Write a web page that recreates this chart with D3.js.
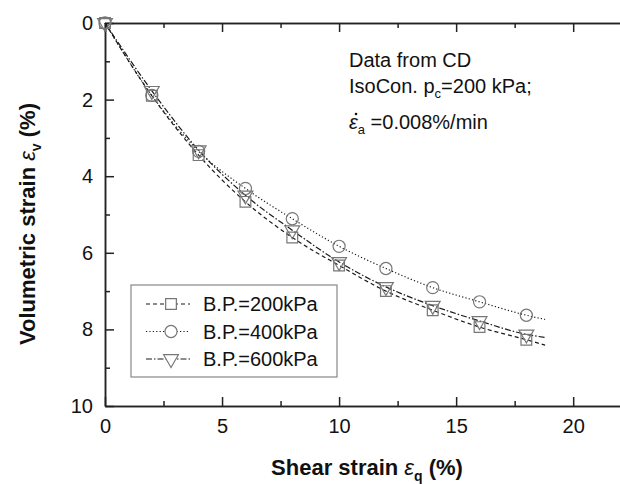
<!DOCTYPE html>
<html>
<head>
<meta charset="utf-8">
<script src="https://cdn.jsdelivr.net/npm/d3@7"></script>
<style>
  body { margin: 0; background: #fff; }
  svg { display: block; font-family: 'Liberation Sans', Arial, sans-serif; }
  .axis path, .axis line { stroke: #222; stroke-width: 1.5; }
  .axis text { font-size: 20px; fill: #111; font-family: 'Liberation Sans', Arial, sans-serif; }
</style>
</head>
<body>
<svg width="620" height="484"></svg>
<script>
const svg = d3.select('svg');

// data
const shearStrain = [0, 2, 4, 6, 8, 10, 12, 14, 16, 18];
const volBP200 = [0, 1.90, 3.45, 4.67, 5.60, 6.33, 7.00, 7.50, 7.94, 8.27];
const volBP400 = [0, 1.89, 3.35, 4.32, 5.11, 5.83, 6.41, 6.91, 7.28, 7.63];
const volBP600 = [0, 1.77, 3.32, 4.50, 5.41, 6.24, 6.89, 7.38, 7.78, 8.13];
// where the fitted lines stop
const lineEndX = 18.8;
const lineEndY = [8.41, 7.74, 8.21];

const seriesNames = ['B.P.=200kPa', 'B.P.=400kPa', 'B.P.=600kPa'];
const xMajor = [0, 5, 10, 15, 20];
const xMinor = [2.5, 7.5, 12.5, 17.5];
const yMajor = [0, 2, 4, 6, 8, 10];
const yMinor = [1, 3, 5, 7, 9];

const LEFT = 105, RIGHT = 620, TOP = 23, BOTTOM = 406;

const x = d3.scaleLinear().domain([0, 22]).range([LEFT, RIGHT]);
const y = d3.scaleLinear().domain([0, 10]).range([TOP, BOTTOM]);

const series = [volBP200, volBP400, volBP600].map((vals, i) => ({
    name: seriesNames[i],
    points: shearStrain.map((s, j) => ({ x: s, y: vals[j] })),
    end: { x: lineEndX, y: lineEndY[i] },
}));

const dashes = ['4,3', '1.2,2.2', '6,2,1.5,2'];
const symbols = [d3.symbolSquare, d3.symbolCircle, d3.symbolTriangle];
const symSizes = [115, 115, 95];

// Axes
const axisG = (cls) => svg.append('g').attr('class', 'axis ' + cls);

axisG('x').attr('transform', `translate(0,${BOTTOM})`)
    .call(d3.axisBottom(x).tickValues(xMajor).tickSize(-9).tickSizeOuter(0).tickPadding(13).tickFormat(d3.format('d')));
axisG('xminor').attr('transform', `translate(0,${BOTTOM})`)
    .call(d3.axisBottom(x).tickValues(xMinor).tickSize(-5).tickSizeOuter(0).tickFormat(''));

axisG('top').attr('transform', `translate(0,${TOP})`)
    .call(d3.axisTop(x).tickValues(xMajor).tickSize(-9).tickSizeOuter(0).tickFormat(''));
axisG('topminor').attr('transform', `translate(0,${TOP})`)
    .call(d3.axisTop(x).tickValues(xMinor).tickSize(-5).tickSizeOuter(0).tickFormat(''));

axisG('y').attr('transform', `translate(${LEFT},0)`)
    .call(d3.axisLeft(y).tickValues(yMajor).tickSize(-9).tickSizeOuter(0).tickPadding(12).tickFormat(d3.format('d')));
axisG('yminor').attr('transform', `translate(${LEFT},0)`)
    .call(d3.axisLeft(y).tickValues(yMinor).tickSize(-5).tickSizeOuter(0).tickFormat(''));

// Lines
const line = d3.line()
    .x(d => x(d.x))
    .y(d => y(d.y))
    .curve(d3.curveMonotoneX);

svg.append('g').attr('id', 'lines')
    .selectAll('path')
    .data(series)
    .join('path')
    .attr('d', d => line(d.points.concat([d.end])))
    .style('fill', 'none')
    .style('stroke', '#1a1a1a')
    .style('stroke-width', 1.2)
    .style('stroke-dasharray', (_d, i) => dashes[i]);

// Markers
const markerPath = (i) => d3.symbol().type(symbols[i]).size(symSizes[i])();

series.forEach((s, i) => {
    svg.append('g')
        .selectAll('path')
        .data(s.points)
        .join('path')
        .attr('d', markerPath(i))
        .attr('transform', d => `translate(${x(d.x)},${y(d.y)})` + (i === 2 ? ' rotate(180)' : ''))
        .style('fill', 'none')
        .style('stroke', '#777')
        .style('stroke-width', 1.2);
});

// Legend
const legend = svg.append('g').attr('transform', 'translate(131,285)');
legend.append('rect')
    .attr('width', 206).attr('height', 92)
    .style('fill', '#fff').style('stroke', '#888').style('stroke-width', 1.2);

series.forEach((s, i) => {
    const cy = 19 + i * 27.5;
    legend.append('line')
        .attr('x1', 15).attr('x2', 59).attr('y1', cy).attr('y2', cy)
        .style('stroke', '#1a1a1a').style('stroke-width', 1.2)
        .style('stroke-dasharray', dashes[i]);
    legend.append('path')
        .attr('d', markerPath(i))
        .attr('transform', `translate(40,${cy})` + (i === 2 ? ' rotate(180)' : ''))
        .style('fill', '#fff').style('stroke', '#777').style('stroke-width', 1.2);
    legend.append('text')
        .attr('x', 72).attr('y', cy + 7)
        .style('font-size', '20px').style('fill', '#111')
        .text(s.name);
});

// Annotation
const note = svg.append('g').style('font-size', '20px').style('fill', '#111');
note.append('text').attr('x', 349).attr('y', 67).text('Data from CD');
const t2 = note.append('text').attr('x', 349).attr('y', 93);
t2.append('tspan').text('IsoCon. p');
t2.append('tspan').attr('dy', 5).style('font-size', '13px').text('c');
t2.append('tspan').attr('dy', -5).text('=200 kPa;');
const t3 = note.append('text').attr('x', 349).attr('y', 129);
t3.append('tspan').style('font-style', 'italic').text('\u03b5');
t3.append('tspan').attr('dy', 5).style('font-size', '13px').text('a');
t3.append('tspan').attr('dy', -5).text(' =0.008%/min');
// rate dot over epsilon
note.append('circle').attr('cx', 356).attr('cy', 114).attr('r', 1.3).style('fill', '#111');

// Axis titles
const xTitle = svg.append('text')
    .attr('x', 367).attr('y', 475)
    .attr('text-anchor', 'middle')
    .style('font-size', '22px').style('font-weight', 'bold').style('fill', '#111');
xTitle.append('tspan').text('Shear strain ');
xTitle.append('tspan').style('font-style', 'italic').style('font-weight', 'normal').text('\u03b5');
xTitle.append('tspan').attr('dy', 6).style('font-size', '14px').text('q');
xTitle.append('tspan').attr('dy', -6).text(' (%)');

const yTitle = svg.append('text')
    .attr('transform', 'translate(35,224) rotate(-90)')
    .attr('text-anchor', 'middle')
    .style('font-size', '22px').style('font-weight', 'bold').style('fill', '#111');
yTitle.append('tspan').text('Volumetric strain ');
yTitle.append('tspan').style('font-style', 'italic').style('font-weight', 'normal').text('\u03b5');
yTitle.append('tspan').attr('dy', 6).style('font-size', '14px').text('v');
yTitle.append('tspan').attr('dy', -6).text(' (%)');
</script>
</body>
</html>
